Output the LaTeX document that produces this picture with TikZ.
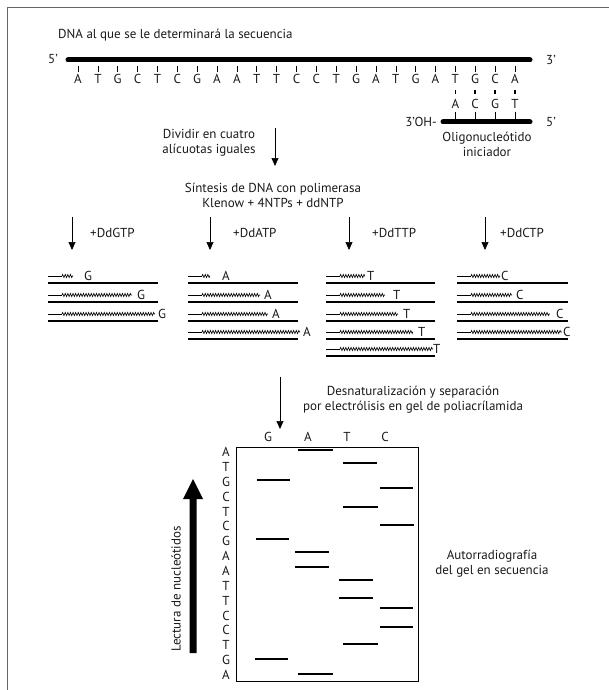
\documentclass[tikz,border=0pt]{standalone}
\usepackage{fontspec}
\setmainfont{PT Sans}
\usetikzlibrary{arrows.meta,decorations.pathmorphing}
\newcommand{\dnarow}[6]{%
  \draw[tmpl] (#1,#3) -- (#2,#3);
  \draw[prim] (#1,#3-7) -- ({#1+14},#3-7);
  \draw[zz] ({#1+14},#3-7) -- (#4,#3-7);
  \node[txt, anchor=west] at (#5,#3-7.5) {#6};
}
\begin{document}
\begin{tikzpicture}[x=1pt,y=-1pt,
  txt/.style={inner sep=0pt, font=\fontsize{13}{15}\selectfont, text=black!90},
  thickstrand/.style={line width=5pt, line cap=round},
  tmpl/.style={line width=2.4pt},
  prim/.style={line width=0.7pt},
  zz/.style={line width=0.6pt, decorate, decoration={zigzag, amplitude=1.6pt, segment length=2.6pt}},
  arr/.style={line width=0.7pt, -{Triangle[width=7pt,length=8pt]}},
  band/.style={line width=1.8pt},
  tick/.style={line width=0.5pt},
]
\useasboundingbox (0,0) rectangle (609,690);
\draw[line width=0.8pt, black!60] (7,690) -- (7,7) -- (609,7);

% template DNA
\node[txt, anchor=west] (title) at (58,35) {DNA al que se le determinará la secuencia};
\node[txt] (f5) at (53,59) {5’};
\node[txt] (f3) at (551,60) {3’};
\coordinate (mL) at (68,60);
\coordinate (mR) at (530,60);
\draw[thickstrand] (mL) -- (mR);
\foreach \b [count=\i] in {A,T,G,C,T,C,G,A,A,T,T,C,C,T,G,A,T,G,A,T,G,C,A} {
  \node[txt] (s\i) at ({78+(\i-1)*19.86},79) {\b};
  \draw[tick] ([yshift=2pt]s\i.north) -- ++(0,-6);
}
% primer
\foreach \b [count=\i] in {A,C,G,T} {
  \pgfmathtruncatemacro{\j}{\i+19}
  \node[txt] (p\i) at (s\j |- 0,104) {\b};
  \draw[line width=1.6pt] ([yshift=-6pt]s\j.south) -- ++(0,4);
  \draw[tick] ([yshift=-3pt]p\i.south) -- ++(0,9);
}
\coordinate (pL) at (443,122);
\coordinate (pR) at (530,122);
\draw[thickstrand] (pL) -- (pR);
\node[txt, anchor=east] (oh) at (437,122) {3’OH-};
\node[txt] (p5) at (551,122) {5’};
\node[txt, align=center] (oligo) at (487,144) {Oligonucleótido\\iniciador};

% divide
\node[txt, align=center] (divid) at (209,143) {Dividir en cuatro\\alícuotas iguales};
\coordinate (a0s) at (275,128);
\coordinate (a0e) at (275,166);
\draw[arr] (a0s) -- (a0e);
\node[txt, align=center] (sint) at (273,195) {Síntesis de DNA con polimerasa\\Klenow + 4NTPs + ddNTP};

% four arrows
\foreach \x/\lx/\lab [count=\k] in {72/90/+DdGTP, 210/233/+DdATP, 349/372/+DdTTP, 485/500/+DdCTP} {
  \coordinate (b\k s) at (\x,217);
  \coordinate (b\k e) at (\x,250);
  \draw[arr] (b\k s) -- (b\k e);
  \node[txt, anchor=west] (lab\k) at (\lx,233) {\lab};
}

% G group
\dnarow{48}{158}{283}{73}{84}{G}
\dnarow{48}{158}{302}{132}{137}{G}
\dnarow{48}{158}{321}{155}{158}{G}
% A group
\dnarow{188}{298}{283}{210}{222}{A}
\dnarow{188}{298}{302}{260}{264}{A}
\dnarow{188}{298}{321}{268}{272}{A}
\dnarow{188}{298}{339}{300}{303}{A}
% T group
\dnarow{326}{435}{283}{365}{367}{T}
\dnarow{326}{435}{302}{385}{393}{T}
\dnarow{326}{435}{321}{398}{403}{T}
\dnarow{326}{435}{339}{413}{418}{T}
\dnarow{326}{435}{356}{433}{433}{T}
% C group
\dnarow{457}{568}{283}{500}{501}{C}
\dnarow{457}{568}{302}{512}{516}{C}
\dnarow{457}{568}{321}{550}{556}{C}
\dnarow{457}{568}{339}{562}{563}{C}

% denaturation
\coordinate (cs) at (280,377);
\coordinate (ce) at (280,429);
\draw[arr] (cs) -- (ce);
\node[txt, align=center] (desn) at (413,400) {Desnaturalización y separación\\por electrólisis en gel de poliacrílamida};

% gel
\foreach \l/\x in {G/268, A/308, T/347, C/385} {
  \node[txt] (lane\l) at (\x,437) {\l};
}
\draw[line width=0.8pt] (236,447) rectangle (418,681);
\foreach \b [count=\i] in {A,T,G,C,T,C,G,A,A,T,T,C,C,T,G,A} {
  \node[txt] (g\i) at (226,{452+(\i-1)*14.87}) {\b};
}
\foreach \xa/\xb/\y in {298/333/450, 343/377/463, 257/290/480, 380/413/488, 343/378/507, 380/414/525,
  256/289/539, 295/329/552, 295/329/567, 339/373/580, 339/373/598, 380/413/608, 380/413/627,
  343/378/644, 255/288/659, 298/333/674} {
  \draw[band] (\xa,\y) -- (\xb,\y);
}
% reading arrow
\fill (189.5,653) -- (189.5,499) -- (183,499) -- (193,479) -- (203,499) -- (196.5,499) -- (196.5,653) -- cycle;
\node[txt, rotate=90] (lect) at (176,589) {Lectura de nucleótidos};
\node[txt, align=center] (auto) at (492,564) {Autorradiografía\\del gel en secuencia};
\end{tikzpicture}
\end{document}
